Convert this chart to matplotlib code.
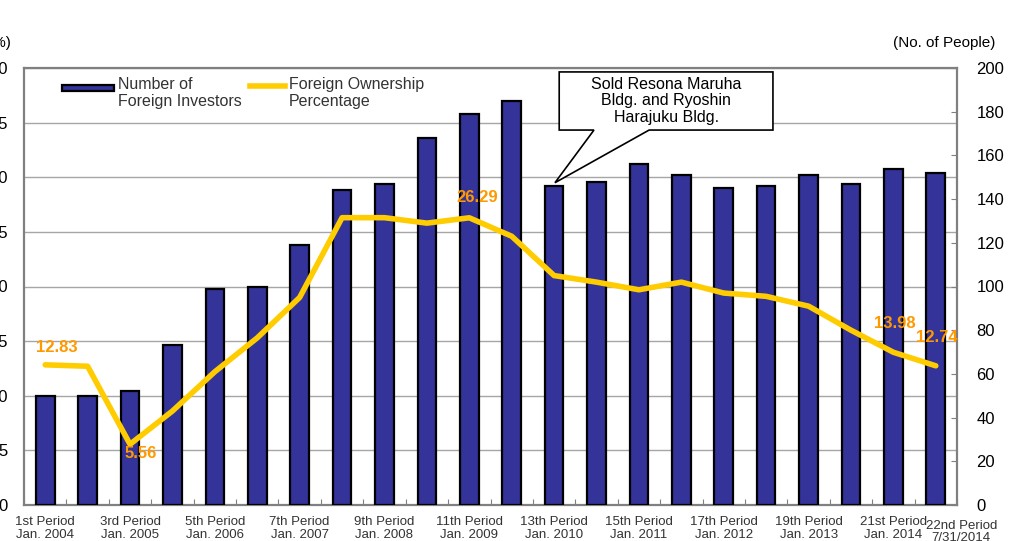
import matplotlib
matplotlib.use("Agg")
import matplotlib.pyplot as plt
from matplotlib.patches import Rectangle, Polygon
from matplotlib.lines import Line2D
import numpy as np

plt.rcParams["font.family"] = ["Liberation Sans", "DejaVu Sans"]

# ---- data ----
periods = [
    "1st Period\nJan. 2004", "2nd Period", "3rd Period\nJan. 2005", "4th Period",
    "5th Period\nJan. 2006", "6th Period", "7th Period\nJan. 2007", "8th Period",
    "9th Period\nJan. 2008", "10th Period", "11th Period\nJan. 2009", "12th Period",
    "13th Period\nJan. 2010", "14th Period", "15th Period\nJan. 2011", "16th Period",
    "17th Period\nJan. 2012", "18th Period", "19th Period\nJan. 2013", "20th Period",
    "21st Period\nJan. 2014", "22nd Period\n7/31/2014",
]
investors = [50, 50, 52, 73, 99, 100, 119, 144, 147, 168, 179, 185,
             146, 148, 156, 151, 145, 146, 151, 147, 154, 152]
foreign_pct = [12.83, 12.7, 5.56, 8.6, 12.2, 15.3, 19.0, 26.3, 26.3, 25.8, 26.29, 24.6,
               21.0, 20.4, 19.7, 20.4, 19.4, 19.1, 18.2, 16.0, 13.98, 12.74]
# index -> (offset x, offset y in points, text)
labelled = {0: (8, 7, "12.83"), 2: (8, -1, "5.56"), 10: (6, 9, "26.29"),
            20: (1, 15, "13.98"), 21: (1, 15, "12.74")}

BAR = "#333399"
LINE = "#FFCC00"
LABEL = "#FF9900"
FRAME = "#808080"

fig = plt.figure(figsize=(10.11, 5.41), dpi=100)
ax = fig.add_axes([24 / 1011, 36 / 541, 933 / 1011, 437 / 541])
x = np.arange(len(periods))

# percent axis: grid + left labels (cropped at the figure edge as in the source)
ax.set_xlim(-0.5, len(periods) - 0.5)
ax.set_ylim(0, 40)
ax.set_yticks(np.arange(0, 41, 5))
ax.yaxis.grid(True, color="#A6A6A6", linewidth=1.0)
ax.set_axisbelow(True)
ax.tick_params(axis="y", length=0, pad=11.5, labelsize=12)
for s in ax.spines.values():
    s.set_color(FRAME)
    s.set_linewidth(1.6)

# bars on the right axis
axb = ax.twinx()
axb.bar(x, investors, width=0.44, color=BAR, edgecolor="black", linewidth=1.6, zorder=3)
axb.set_ylim(0, 200)
axb.set_yticks(np.arange(0, 201, 20))
axb.tick_params(axis="y", direction="in", length=4, color=FRAME, pad=14, labelsize=12)
for s in axb.spines.values():
    s.set_visible(False)

# line on its own percent axis above the bars
axl = ax.twinx()
axl.set_ylim(0, 40)
axl.set_yticks([])
axl.plot(x, foreign_pct, color=LINE, linewidth=4, solid_joinstyle="round",
         solid_capstyle="round", zorder=5)
for i, (dx, dy, txt) in labelled.items():
    axl.annotate(txt, (x[i], foreign_pct[i]), xytext=(dx, dy), textcoords="offset points",
                 ha="center", va="bottom" if dy > 0 else "top", color=LABEL,
                 fontsize=12, fontweight="bold", zorder=6)
for s in axl.spines.values():
    s.set_visible(False)

# x ticks: inward marks at category boundaries, labels every other period
ax.set_xticks(np.arange(-0.5, len(periods), 1))
ax.set_xticklabels([])
ax.tick_params(axis="x", direction="in", length=4, color=FRAME)
for i in range(0, 21, 2):
    ax.text(x[i], -0.026, periods[i], transform=ax.get_xaxis_transform(),
            ha="center", va="top", fontsize=9.5, color="#333333", linespacing=1.1)
ax.text(x[21] + 0.6, -0.035, periods[21], transform=ax.get_xaxis_transform(),
        ha="center", va="top", fontsize=9.5, color="#333333", linespacing=1.0)

# axis unit labels
fig.text(11 / 1011, 1 - 43 / 541, "(%)", ha="right", va="center", fontsize=11)
fig.text(995 / 1011, 1 - 43 / 541, "(No. of People)", ha="right", va="center", fontsize=11)

# legend drawn by hand, Excel style
axl.add_patch(Rectangle((0.0407, 0.947), 0.0557, 0.015, transform=axl.transAxes,
                        facecolor=BAR, edgecolor="black", linewidth=1.6, zorder=7))
axl.text(0.1008, 0.980, "Number of\nForeign Investors", transform=axl.transAxes,
         ha="left", va="top", fontsize=11.5, color="#333333", linespacing=1.18)
axl.add_line(Line2D([0.242, 0.280], [0.959, 0.959], transform=axl.transAxes,
                    color=LINE, linewidth=4, zorder=7))
axl.text(0.284, 0.980, "Foreign Ownership\nPercentage", transform=axl.transAxes,
         ha="left", va="top", fontsize=11.5, color="#333333", linespacing=1.18)

# callout box pointing at the 13th-period bar
callout = [(12.12, 171.6), (12.94, 171.6), (12.02, 147.5), (14.24, 171.6),
           (17.16, 171.6), (17.16, 198.2), (12.12, 198.2)]
axb.add_patch(Polygon(callout, closed=True, facecolor="white", edgecolor="black",
                      linewidth=1.2, zorder=8))
axb.text(14.64, 185.0, "Sold Resona Maruha\nBldg. and Ryoshin\nHarajuku Bldg.",
         ha="center", va="center", fontsize=11.5, linespacing=1.12, zorder=9)

fig.savefig("out.png", dpi=100, facecolor="white")
